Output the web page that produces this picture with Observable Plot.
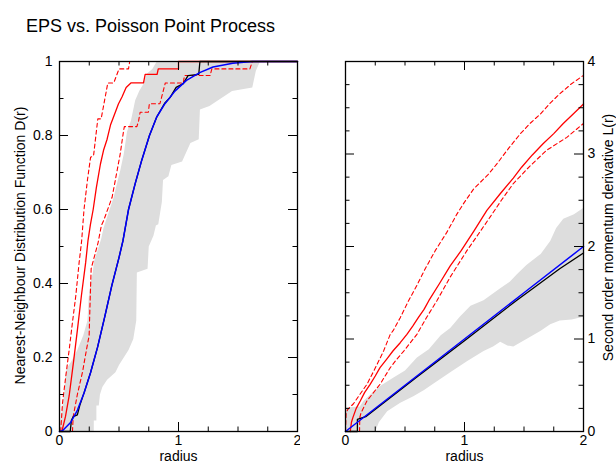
<!DOCTYPE html>
<html><head><meta charset="utf-8">
<script src="https://cdn.jsdelivr.net/npm/d3@7"></script>
<script src="https://cdn.jsdelivr.net/npm/@observablehq/plot@0.6"></script>
<style>
html,body{margin:0;padding:0;background:#fff;}
#wrap{position:relative;width:616px;height:466px;overflow:hidden;font-family:"Liberation Sans",Arial,sans-serif;}
#title{position:absolute;left:26px;top:16.5px;font-size:18px;line-height:18px;color:#000;white-space:nowrap;}
#left{position:absolute;left:0;top:50px;}
#right{position:absolute;left:300px;top:50px;}
</style></head><body>
<div id="wrap"><div id="title">EPS vs. Poisson Point Process</div><div id="left"></div><div id="right"></div></div>
<script>
// ---------- tick values ----------
const xMajor = [0, 1, 2];
const xMinor = [0.25, 0.5, 0.75, 1.25, 1.5, 1.75];
const dMajor = [0, 0.2, 0.4, 0.6, 0.8, 1];
const dMinor = [0.1, 0.3, 0.5, 0.7, 0.9];
const lMajor = [0, 1, 2, 3, 4];
const lMinor = [0.25, 0.5, 0.75, 1.25, 1.5, 1.75, 2.25, 2.5, 2.75, 3.25, 3.5, 3.75];

// ---------- left panel: nearest-neighbour distribution D(r) ----------
// Poisson simulation envelope: left edge (upper bound) and right edge (lower bound)
const dBandUpper = [[0,0],[0.02,0.06],[0.04,0.10],[0.05,0.15],[0.06,0.17],[0.10,0.19],[0.15,0.22],[0.20,0.26],[0.235,0.30],[0.245,0.36],[0.26,0.40],[0.28,0.43],[0.29,0.46],[0.31,0.48],[0.35,0.52],[0.37,0.55],[0.40,0.58],[0.455,0.633],[0.49,0.68],[0.51,0.705],[0.54,0.75],[0.567,0.81],[0.60,0.84],[0.62,0.87],[0.636,0.895],[0.67,0.92],[0.706,0.94],[0.733,0.967],[0.78,0.98],[0.817,1.0]];
const dBandLower = [[0.288,0],[0.288,0.03],[0.31,0.03],[0.31,0.07],[0.33,0.07],[0.34,0.10],[0.36,0.12],[0.40,0.14],[0.47,0.16],[0.50,0.18],[0.52,0.19],[0.56,0.21],[0.58,0.22],[0.62,0.25],[0.645,0.30],[0.65,0.43],[0.74,0.44],[0.75,0.50],[0.79,0.53],[0.81,0.557],[0.83,0.56],[0.86,0.62],[0.87,0.68],[0.915,0.69],[0.94,0.72],[1.03,0.73],[1.10,0.78],[1.17,0.79],[1.18,0.87],[1.26,0.88],[1.45,0.92],[1.62,0.93],[1.65,0.975],[1.685,1.0]];
// EPS observed and its envelope
const dEps = [[0.02,0],[0.05,0.04],[0.081,0.096],[0.117,0.186],[0.151,0.276],[0.184,0.367],[0.22,0.457],[0.239,0.515],[0.26,0.56],[0.283,0.6],[0.31,0.66],[0.344,0.723],[0.37,0.76],[0.40,0.79],[0.43,0.83],[0.469,0.863],[0.495,0.885],[0.525,0.904],[0.56,0.93],[0.6,0.942],[0.706,0.942],[0.72,0.965],[0.82,0.965],[0.83,0.98],[1.0,0.98],[1.0,1.0],[2,1]];
const dEpsHi = [[0.01,0],[0.025,0.076],[0.053,0.15],[0.081,0.22],[0.109,0.295],[0.137,0.367],[0.165,0.457],[0.186,0.515],[0.206,0.6],[0.235,0.68],[0.261,0.741],[0.286,0.745],[0.322,0.845],[0.35,0.845],[0.406,0.942],[0.456,0.942],[0.5,0.98],[0.58,0.98],[0.59,1.0],[2,1]];
const dEpsLo = [[0.109,0],[0.115,0.04],[0.15,0.10],[0.193,0.16],[0.226,0.22],[0.249,0.259],[0.257,0.349],[0.266,0.44],[0.296,0.476],[0.324,0.51],[0.352,0.557],[0.371,0.57],[0.442,0.633],[0.484,0.705],[0.51,0.75],[0.539,0.814],[0.545,0.824],[0.65,0.824],[0.665,0.84],[0.678,0.863],[0.747,0.863],[0.755,0.886],[0.844,0.886],[0.889,0.942],[1.04,0.942],[1.05,0.962],[1.266,0.962],[1.28,0.98],[1.6,0.98],[1.62,1.0],[2,1]];
// Poisson observed (black) and theoretical (blue)
const dPois = [[0,0],[0.09,0],[0.10,0.03],[0.115,0.04],[0.15,0.045],[0.17,0.07],[0.207,0.105],[0.26,0.158],[0.32,0.228],[0.38,0.31],[0.44,0.395],[0.50,0.47],[0.533,0.515],[0.58,0.6],[0.636,0.67],[0.69,0.732],[0.756,0.8],[0.817,0.85],[0.886,0.888],[0.93,0.903],[0.98,0.93],[1.04,0.94],[1.08,0.962],[1.17,0.965],[1.18,1.0],[2,1]];
const dTheory = [[0,0],[0.025,0.002],[0.095,0.025],[0.151,0.058],[0.207,0.105],[0.26,0.158],[0.32,0.228],[0.38,0.31],[0.44,0.395],[0.50,0.47],[0.533,0.515],[0.58,0.6],[0.636,0.67],[0.69,0.732],[0.756,0.8],[0.817,0.85],[0.886,0.886],[0.97,0.92],[1.067,0.949],[1.178,0.97],[1.29,0.985],[1.456,0.995],[1.62,1.0],[2,1]];

// ---------- right panel: L(r) ----------
const lBandUpper = [[0,0],[0.005,0.26],[0.12,0.27],[0.15,0.33],[0.25,0.45],[0.3,0.5],[0.4,0.58],[0.5,0.66],[0.6,0.8],[0.7,0.89],[0.8,1.04],[0.88,1.12],[0.96,1.24],[1.05,1.36],[1.16,1.42],[1.3,1.55],[1.38,1.62],[1.44,1.70],[1.52,1.80],[1.64,1.92],[1.72,2.06],[1.77,2.2],[1.83,2.30],[1.92,2.35],[2.0,2.42]];
const lBandLower = [[0,0],[0.25,0],[0.28,0.1],[0.35,0.22],[0.46,0.31],[0.57,0.38],[0.66,0.45],[0.74,0.52],[0.88,0.64],[1.02,0.76],[1.16,0.87],[1.24,0.92],[1.30,0.97],[1.36,0.93],[1.41,0.92],[1.52,1.0],[1.64,1.09],[1.72,1.16],[1.80,1.20],[1.9,1.21],[2.0,1.24]];
const lEps = [[0.04,0],[0.05,0.1],[0.062,0.15],[0.09,0.25],[0.124,0.33],[0.16,0.42],[0.207,0.51],[0.25,0.6],[0.29,0.69],[0.345,0.78],[0.40,0.873],[0.46,0.96],[0.516,1.05],[0.565,1.14],[0.613,1.234],[0.66,1.32],[0.70,1.414],[0.79,1.6],[0.88,1.79],[0.972,1.955],[1.08,2.17],[1.188,2.39],[1.30,2.57],[1.41,2.74],[1.48,2.857],[1.57,2.99],[1.66,3.11],[1.75,3.22],[1.83,3.33],[1.92,3.44],[2.0,3.54]];
const lEpsHi = [[0,0],[0.005,0.2],[0.02,0.24],[0.067,0.3],[0.12,0.4],[0.18,0.51],[0.24,0.66],[0.32,0.87],[0.376,1.05],[0.40,1.09],[0.46,1.23],[0.53,1.414],[0.60,1.58],[0.67,1.76],[0.754,1.955],[0.85,2.15],[0.936,2.35],[1.0,2.48],[1.076,2.62],[1.13,2.69],[1.20,2.78],[1.27,2.89],[1.37,3.06],[1.47,3.22],[1.55,3.33],[1.636,3.43],[1.72,3.55],[1.80,3.65],[1.90,3.76],[2.0,3.85]];
const lEpsLo = [[0.118,0],[0.12,0.15],[0.13,0.2],[0.18,0.33],[0.235,0.42],[0.29,0.51],[0.376,0.69],[0.43,0.78],[0.49,0.87],[0.6,1.05],[0.68,1.23],[0.768,1.414],[0.88,1.67],[1.02,1.955],[1.12,2.14],[1.216,2.32],[1.31,2.50],[1.41,2.68],[1.55,2.87],[1.69,3.04],[1.86,3.18],[2.0,3.33]];
const lPois = [[0,0],[0.1,0],[0.1,0.13],[0.17,0.16],[0.3,0.29],[0.6,0.59],[1.0,0.98],[1.44,1.42],[1.8,1.76],[2.0,1.93]];
const lTheory = [[0,0],[0.5,0.5],[1,1],[1.5,1.5],[2,2]];

const RED = "#ff0000", BLUE = "#0000ff", GRAY = "#dddddd";
const FS = 14;

function panel(o) {
  const height = 416, mt = 11, mb = 35;
  const ph = height - mt - mb, pw = o.width - o.marginLeft - o.marginRight;
  const MAJ = 9, MIN = 4.5;
  const X = d => d[0], Y = d => d[1];
  const poly = o.bandUpper.concat(o.bandLower.slice().reverse());
  const ln = (data, stroke, extra = {}) => Plot.line(data, {x: X, y: Y, stroke, strokeWidth: 1.3, ...extra});
  return Plot.plot({
    width: o.width, height,
    marginLeft: o.marginLeft, marginRight: o.marginRight, marginTop: mt, marginBottom: mb,
    style: {fontFamily: "Liberation Sans, Arial, sans-serif", fontSize: "14px", color: "black", background: "white"},
    x: {domain: [0, 2]},
    y: {domain: o.yDomain},
    marks: [
      Plot.line(poly, {x: X, y: Y, fill: GRAY, stroke: "none"}),
      ln(o.epsHi, RED, {strokeDasharray: "4,3", strokeWidth: 1.1}),
      ln(o.epsLo, RED, {strokeDasharray: "4,3", strokeWidth: 1.1}),
      ln(o.eps, RED),
      ln(o.pois, "black"),
      ln(o.theory, BLUE, {strokeWidth: 1.5}),
      Plot.tickX(xMajor, {x: d => d, insetTop: ph - MAJ, stroke: "black"}),
      Plot.tickX(xMajor, {x: d => d, insetBottom: ph - MAJ, stroke: "black"}),
      Plot.tickX(xMinor, {x: d => d, insetTop: ph - MIN, stroke: "black"}),
      Plot.tickX(xMinor, {x: d => d, insetBottom: ph - MIN, stroke: "black"}),
      Plot.tickY(o.yMajor, {y: d => d, insetRight: pw - MAJ, stroke: "black"}),
      Plot.tickY(o.yMajor, {y: d => d, insetLeft: pw - MAJ, stroke: "black"}),
      Plot.tickY(o.yMinor, {y: d => d, insetRight: pw - MIN, stroke: "black"}),
      Plot.tickY(o.yMinor, {y: d => d, insetLeft: pw - MIN, stroke: "black"}),
      Plot.frame({stroke: "black", strokeWidth: 1.3}),
      Plot.axisX(xMajor, {anchor: "bottom", tickSize: 0, tickPadding: 4, label: null, fontSize: FS, tickFormat: d => String(d)}),
      Plot.axisY(o.yMajor, {anchor: o.yAnchor, tickSize: 0, tickPadding: o.yPad, label: null, fontSize: FS, tickFormat: d => String(d)}),
      Plot.text(["radius"], {frameAnchor: "bottom", dy: 29, fontSize: FS, textAnchor: "middle", text: d => d}),
      Plot.text([o.yLabel], {frameAnchor: o.yAnchor, dx: o.labelDx, dy: o.labelDy, rotate: -90, fontSize: FS, textAnchor: "middle", text: d => d})
    ]
  });
}

document.getElementById("left").appendChild(panel({
  width: 300, marginLeft: 59, marginRight: 3, yDomain: [0, 1],
  yMajor: dMajor, yMinor: dMinor, yAnchor: "left", yPad: 7,
  yLabel: "Nearest-Neighbour Distribution Function D(r)", labelDx: -39, labelDy: -1,
  bandUpper: dBandUpper, bandLower: dBandLower,
  eps: dEps, epsHi: dEpsHi, epsLo: dEpsLo, pois: dPois, theory: dTheory
}));
document.getElementById("right").appendChild(panel({
  width: 316, marginLeft: 45, marginRight: 33, yDomain: [0, 4],
  yMajor: lMajor, yMinor: lMinor, yAnchor: "right", yPad: 4,
  yLabel: "Second order momentum derivative L(r)", labelDx: 25, labelDy: -9,
  bandUpper: lBandUpper, bandLower: lBandLower,
  eps: lEps, epsHi: lEpsHi, epsLo: lEpsLo, pois: lPois, theory: lTheory
}));
</script>
</body></html>
